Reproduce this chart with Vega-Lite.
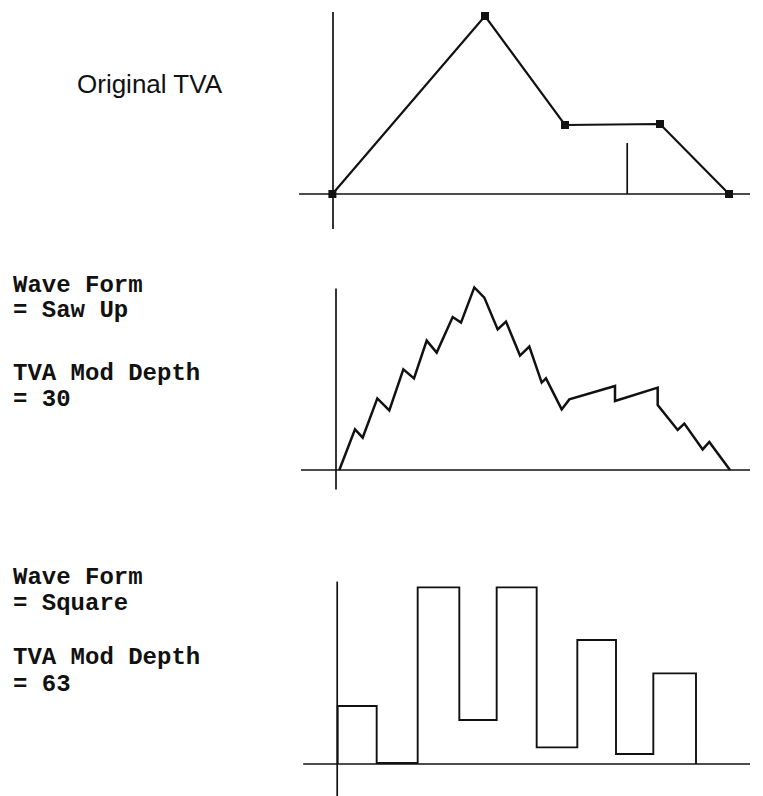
{
  "$schema": "https://vega.github.io/schema/vega-lite/v6.json",
  "background": "white",
  "padding": 0,
  "spacing": 0,
  "config": {"view": {"stroke": null}},
  "datasets": {
    "axes": [
      {"panel": 1, "t": -9.25, "level": 0, "t2": 103.5, "level2": 0},
      {"panel": 1, "t": -0.75, "level": 91, "t2": -0.75, "level2": -17.5},
      {"panel": 1, "t": 72.8, "level": 25.5, "t2": 72.8, "level2": 0},
      {"panel": 2, "t": -8.75, "level": 0, "t2": 103.5, "level2": 0},
      {"panel": 2, "t": 0, "level": 90.8, "t2": 0, "level2": -9.7},
      {"panel": 3, "t": -8.2, "level": 0, "t2": 103.5, "level2": 0},
      {"panel": 3, "t": 0.3, "level": 91.2, "t2": 0.3, "level2": -16}
    ],
    "envelope": [
      {"i": 1, "t": -0.9, "level": 0},
      {"i": 2, "t": 37.25, "level": 89},
      {"i": 3, "t": 57.25, "level": 34.5},
      {"i": 4, "t": 81, "level": 35},
      {"i": 5, "t": 98.25, "level": 0}
    ],
    "saw": [
      {"i": 1, "t": 0.83, "level": 0},
      {"i": 2, "t": 4.75, "level": 20.3},
      {"i": 3, "t": 6.67, "level": 16.2},
      {"i": 4, "t": 10.33, "level": 35.8},
      {"i": 5, "t": 13.33, "level": 29.8},
      {"i": 6, "t": 16.83, "level": 50.3},
      {"i": 7, "t": 19.5, "level": 45.8},
      {"i": 8, "t": 22.67, "level": 64.7},
      {"i": 9, "t": 25.17, "level": 58.7},
      {"i": 10, "t": 29.17, "level": 76.5},
      {"i": 11, "t": 31.25, "level": 73.7},
      {"i": 12, "t": 34.58, "level": 91.3},
      {"i": 13, "t": 37.08, "level": 86.2},
      {"i": 14, "t": 40.42, "level": 70.3},
      {"i": 15, "t": 42.5, "level": 74.2},
      {"i": 16, "t": 46, "level": 57.2},
      {"i": 17, "t": 48.33, "level": 61.7},
      {"i": 18, "t": 51.42, "level": 43.7},
      {"i": 19, "t": 52.5, "level": 45.8},
      {"i": 20, "t": 56.42, "level": 30.3},
      {"i": 21, "t": 58.33, "level": 35.3},
      {"i": 22, "t": 69.75, "level": 42},
      {"i": 23, "t": 69.75, "level": 34.5},
      {"i": 24, "t": 80.42, "level": 41.2},
      {"i": 25, "t": 80.42, "level": 32.5},
      {"i": 26, "t": 85.42, "level": 20},
      {"i": 27, "t": 87.08, "level": 23.2},
      {"i": 28, "t": 91.67, "level": 10.3},
      {"i": 29, "t": 93.33, "level": 14},
      {"i": 30, "t": 98.5, "level": 0}
    ],
    "square": [
      {"i": 1, "t": 0.42, "level": 0},
      {"i": 2, "t": 0.42, "level": 29},
      {"i": 3, "t": 10.17, "level": 29},
      {"i": 4, "t": 10.17, "level": 0.5},
      {"i": 5, "t": 20.42, "level": 0.5},
      {"i": 6, "t": 20.42, "level": 88.3},
      {"i": 7, "t": 30.83, "level": 88.3},
      {"i": 8, "t": 30.83, "level": 22},
      {"i": 9, "t": 40.17, "level": 22},
      {"i": 10, "t": 40.17, "level": 88.3},
      {"i": 11, "t": 50.17, "level": 88.3},
      {"i": 12, "t": 50.17, "level": 8.3},
      {"i": 13, "t": 60.33, "level": 8.3},
      {"i": 14, "t": 60.33, "level": 62},
      {"i": 15, "t": 70, "level": 62},
      {"i": 16, "t": 70, "level": 5},
      {"i": 17, "t": 79.33, "level": 5},
      {"i": 18, "t": 79.33, "level": 45.3},
      {"i": 19, "t": 90, "level": 45.3},
      {"i": 20, "t": 90, "level": 0}
    ],
    "labels": [
      {"panel": 1, "label": "Original TVA", "t": -64.75, "level": 50.5},
      {"panel": 2, "label": "Wave Form", "t": -80.75, "level": 89},
      {"panel": 2, "label": "= Saw Up", "t": -80.75, "level": 76.5},
      {"panel": 2, "label": "TVA Mod Depth", "t": -80.75, "level": 45},
      {"panel": 2, "label": "= 30", "t": -80.75, "level": 32},
      {"panel": 3, "label": "Wave Form", "t": -80.75, "level": 90},
      {"panel": 3, "label": "= Square", "t": -80.75, "level": 77},
      {"panel": 3, "label": "TVA Mod Depth", "t": -80.75, "level": 50},
      {"panel": 3, "label": "= 63", "t": -80.75, "level": 36.5}
    ]
  },
  "vconcat": [
    {
      "width": 763,
      "height": 265,
      "encoding": {
        "x": {"field": "t", "type": "quantitative", "scale": {"domain": [-84, 106.75], "nice": false, "zero": false}, "axis": null},
        "y": {"field": "level", "type": "quantitative", "scale": {"domain": [-35.5, 97], "nice": false, "zero": false}, "axis": null}
      },
      "layer": [
        {
          "data": {"name": "axes"},
          "transform": [{"filter": "datum.panel == 1"}],
          "mark": {"type": "rule", "color": "#111", "strokeWidth": 1.7},
          "encoding": {"x2": {"field": "t2"}, "y2": {"field": "level2"}}
        },
        {
          "data": {"name": "envelope"},
          "mark": {"type": "line", "color": "#111", "strokeWidth": 2.2},
          "encoding": {"order": {"field": "i", "type": "quantitative"}}
        },
        {
          "data": {"name": "envelope"},
          "mark": {"type": "point", "shape": "square", "filled": true, "color": "#111", "size": 64, "opacity": 1}
        },
        {
          "data": {"name": "labels"},
          "transform": [{"filter": "datum.panel == 1"}],
          "mark": {"type": "text", "align": "left", "baseline": "alphabetic", "font": "Liberation Sans", "fontSize": 26, "color": "#111"},
          "encoding": {"text": {"field": "label"}}
        }
      ]
    },
    {
      "width": 763,
      "height": 265,
      "encoding": {
        "x": {"field": "t", "type": "quantitative", "scale": {"domain": [-84, 106.75], "nice": false, "zero": false}, "axis": null},
        "y": {"field": "level", "type": "quantitative", "scale": {"domain": [-30, 102.5], "nice": false, "zero": false}, "axis": null}
      },
      "layer": [
        {
          "data": {"name": "axes"},
          "transform": [{"filter": "datum.panel == 2"}],
          "mark": {"type": "rule", "color": "#111", "strokeWidth": 1.7},
          "encoding": {"x2": {"field": "t2"}, "y2": {"field": "level2"}}
        },
        {
          "data": {"name": "saw"},
          "mark": {"type": "line", "color": "#111", "strokeWidth": 2.5, "strokeJoin": "miter"},
          "encoding": {"order": {"field": "i", "type": "quantitative"}}
        },
        {
          "data": {"name": "labels"},
          "transform": [{"filter": "datum.panel == 2"}],
          "mark": {"type": "text", "align": "left", "baseline": "alphabetic", "font": "Liberation Mono", "fontWeight": "bold", "fontSize": 24, "color": "#111"},
          "encoding": {"text": {"field": "label"}}
        }
      ]
    },
    {
      "width": 763,
      "height": 266,
      "encoding": {
        "x": {"field": "t", "type": "quantitative", "scale": {"domain": [-84, 106.75], "nice": false, "zero": false}, "axis": null},
        "y": {"field": "level", "type": "quantitative", "scale": {"domain": [-16, 117], "nice": false, "zero": false}, "axis": null}
      },
      "layer": [
        {
          "data": {"name": "axes"},
          "transform": [{"filter": "datum.panel == 3"}],
          "mark": {"type": "rule", "color": "#111", "strokeWidth": 1.7},
          "encoding": {"x2": {"field": "t2"}, "y2": {"field": "level2"}}
        },
        {
          "data": {"name": "square"},
          "mark": {"type": "line", "color": "#111", "strokeWidth": 1.9, "strokeJoin": "miter"},
          "encoding": {"order": {"field": "i", "type": "quantitative"}}
        },
        {
          "data": {"name": "labels"},
          "transform": [{"filter": "datum.panel == 3"}],
          "mark": {"type": "text", "align": "left", "baseline": "alphabetic", "font": "Liberation Mono", "fontWeight": "bold", "fontSize": 24, "color": "#111"},
          "encoding": {"text": {"field": "label"}}
        }
      ]
    }
  ]
}
